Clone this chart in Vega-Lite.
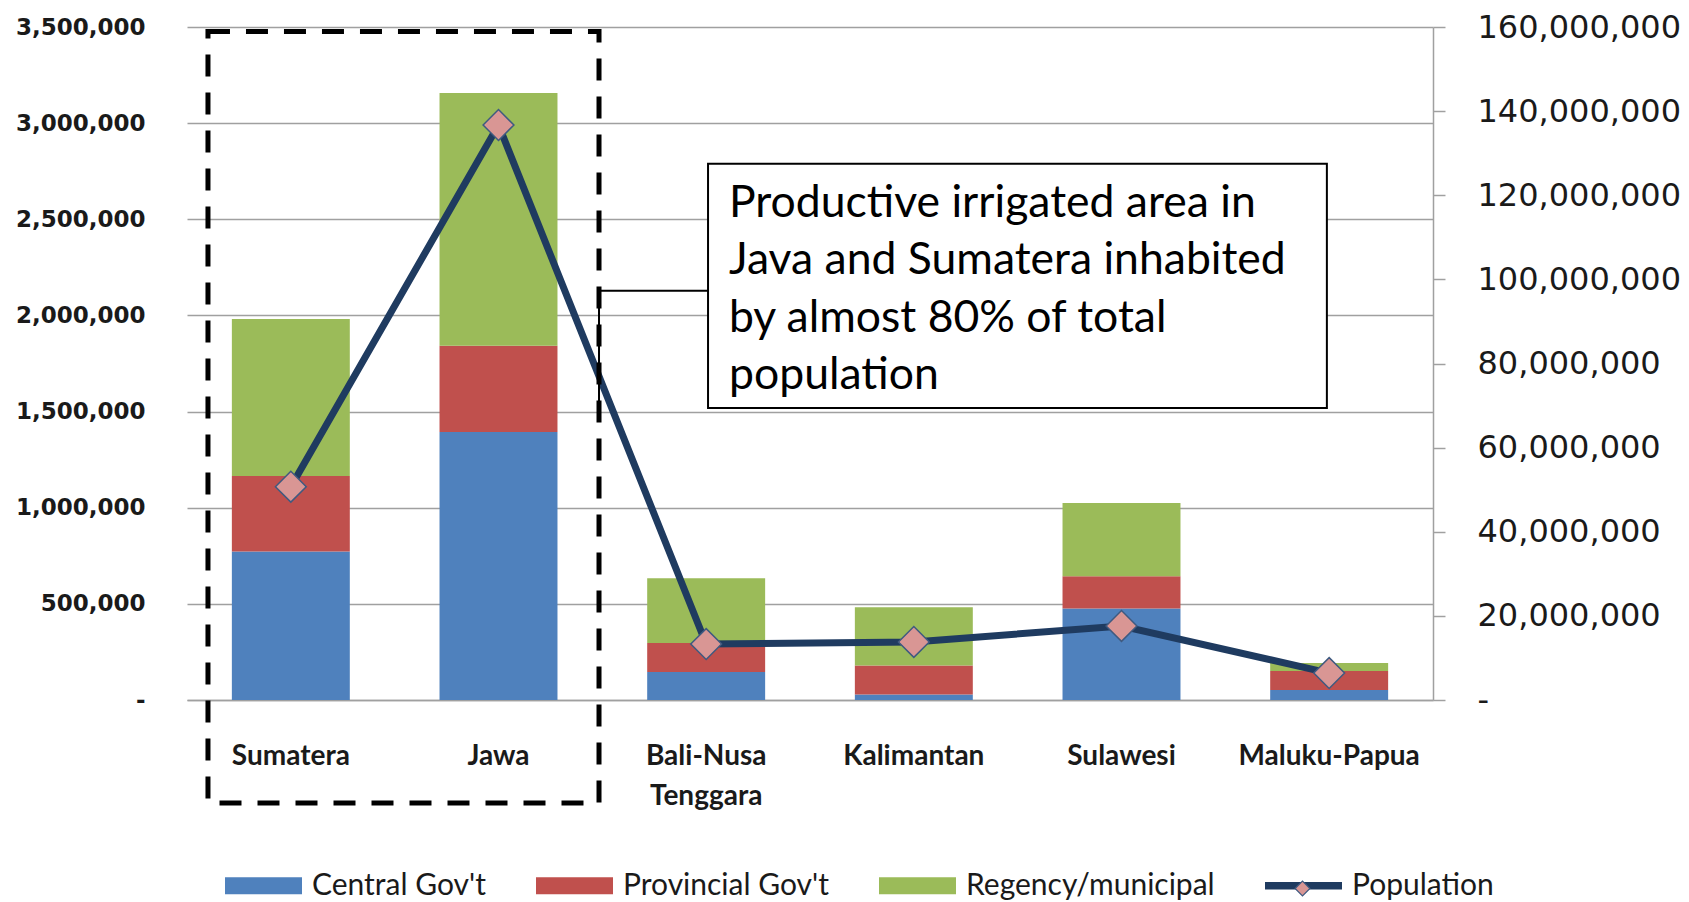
{
  "$schema": "https://vega.github.io/schema/vega-lite/v6.json",
  "width": 1246,
  "height": 673,
  "autosize": {"type": "none"},
  "padding": {"left": 187, "top": 27, "right": 256, "bottom": 202},
  "background": "white",
  "config": {"view": {"stroke": null}},
  "datasets": {
    "area": [
      {"region": "Sumatera", "source": "Central Gov't", "area": 772000},
      {"region": "Sumatera", "source": "Provincial Gov't", "area": 393000},
      {"region": "Sumatera", "source": "Regency/municipal", "area": 817000},
      {"region": "Jawa", "source": "Central Gov't", "area": 1394000},
      {"region": "Jawa", "source": "Provincial Gov't", "area": 448000},
      {"region": "Jawa", "source": "Regency/municipal", "area": 1315000},
      {"region": "Bali-Nusa Tenggara", "source": "Central Gov't", "area": 146000},
      {"region": "Bali-Nusa Tenggara", "source": "Provincial Gov't", "area": 151000},
      {"region": "Bali-Nusa Tenggara", "source": "Regency/municipal", "area": 336000},
      {"region": "Kalimantan", "source": "Central Gov't", "area": 28000},
      {"region": "Kalimantan", "source": "Provincial Gov't", "area": 151000},
      {"region": "Kalimantan", "source": "Regency/municipal", "area": 303000},
      {"region": "Sulawesi", "source": "Central Gov't", "area": 476000},
      {"region": "Sulawesi", "source": "Provincial Gov't", "area": 168000},
      {"region": "Sulawesi", "source": "Regency/municipal", "area": 381000},
      {"region": "Maluku-Papua", "source": "Central Gov't", "area": 52000},
      {"region": "Maluku-Papua", "source": "Provincial Gov't", "area": 99000},
      {"region": "Maluku-Papua", "source": "Regency/municipal", "area": 42000}
    ],
    "pop": [
      {"region": "Sumatera", "series": "Population", "population": 50700000},
      {"region": "Jawa", "series": "Population", "population": 136700000},
      {"region": "Bali-Nusa Tenggara", "series": "Population", "population": 13300000},
      {"region": "Kalimantan", "series": "Population", "population": 13800000},
      {"region": "Sulawesi", "series": "Population", "population": 17600000},
      {"region": "Maluku-Papua", "series": "Population", "population": 6400000}
    ],
    "dash": [{"x": 0.101, "x2": 1.984, "y": 3476000, "y2": -536000}],
    "callout": [{"x": 2.509, "x2": 5.489, "y": 2789000, "y2": 1519000}],
    "connector": [
      {"k": 1, "x": 2.509, "y": 2128000},
      {"k": 2, "x": 1.984, "y": 2128000},
      {"k": 3, "x": 1.984, "y": 1457000}
    ],
    "note": [
      {"text": ["Productive irrigated  area in", "Java and Sumatera inhabited", "by almost 80% of total", "population"], "x": 2.61, "y": 2581000}
    ]
  },
  "layer": [
    {
      "data": {"name": "area"},
      "mark": {"type": "bar"},
      "encoding": {
        "x": {
          "field": "region", "type": "nominal",
          "sort": ["Sumatera", "Jawa", "Bali-Nusa Tenggara", "Kalimantan", "Sulawesi", "Maluku-Papua"],
          "scale": {"type": "band", "paddingInner": 0.432, "paddingOuter": 0.216},
          "axis": {
            "title": null, "labelAngle": 0, "ticks": false, "labelLimit": 0,
            "domain": true, "domainColor": "#A0A0A0", "domainWidth": 1.5,
            "labelFont": "Lato", "labelFontWeight": "bold", "labelFontSize": 28, "labelColor": "#1a1a1a",
            "labelPadding": 42, "labelBaseline": "top", "labelLineHeight": 40,
            "labelExpr": "datum.label == 'Bali-Nusa Tenggara' ? ['Bali-Nusa', 'Tenggara'] : datum.label"
          }
        },
        "y": {
          "field": "area", "type": "quantitative", "stack": "zero",
          "scale": {"domain": [0, 3500000], "nice": false},
          "axis": {
            "title": null, "orient": "left", "labelLimit": 0,
            "values": [0, 500000, 1000000, 1500000, 2000000, 2500000, 3000000, 3500000],
            "labelExpr": "datum.value === 0 ? '-\u00a0\u00a0' : format(datum.value, ',')",
            "labelFont": "DejaVu Sans", "labelFontWeight": "bold", "labelFontSize": 23, "labelColor": "#1a1a1a",
            "labelPadding": 42, "ticks": false, "domain": false,
            "grid": true, "gridColor": "#A0A0A0", "gridWidth": 1.5
          }
        },
        "order": {"field": "source", "type": "nominal", "sort": "ascending"},
        "color": {
          "field": "source", "type": "nominal",
          "scale": {
            "domain": ["Central Gov't", "Provincial Gov't", "Regency/municipal", "Population"],
            "range": ["#4F81BD", "#C0504D", "#9BBB59", "#1F3B60"]
          },
          "legend": {
            "orient": "none", "legendX": 38, "legendY": 820, "direction": "horizontal",
            "title": null, "padding": 0, "labelLimit": 0,
            "symbolType": "M-1,-0.22H1V0.22H-1Z", "symbolSize": 5929, "symbolStrokeWidth": 0,
            "labelFont": "Lato", "labelFontSize": 30, "labelColor": "#1a1a1a", "labelOffset": 10,
            "columnPadding": 50,
            "encode": {
              "symbols": {
                "update": {
                  "shape": {"signal": "datum.value === 'Population' ? 'M-1,-0.1H1V0.1H-1Z' : 'M-1,-0.22H1V0.22H-1Z'"}
                }
              }
            }
          }
        }
      }
    },
    {
      "data": {"name": "pop"},
      "encoding": {
        "x": {
          "field": "region", "type": "nominal",
          "sort": ["Sumatera", "Jawa", "Bali-Nusa Tenggara", "Kalimantan", "Sulawesi", "Maluku-Papua"],
          "scale": {"type": "point", "padding": 0.5},
          "axis": null
        },
        "y": {
          "field": "population", "type": "quantitative",
          "scale": {"domain": [0, 160000000], "nice": false},
          "axis": {
            "title": null, "orient": "right", "labelLimit": 0,
            "values": [0, 20000000, 40000000, 60000000, 80000000, 100000000, 120000000, 140000000, 160000000],
            "labelExpr": "datum.value === 0 ? '-' : format(datum.value, ',')",
            "labelFont": "DejaVu Sans", "labelFontSize": 32, "labelColor": "#1a1a1a",
            "labelPadding": 32, "tickSize": 12, "tickColor": "#A0A0A0", "tickWidth": 1.5,
            "domain": true, "domainColor": "#A0A0A0", "domainWidth": 1.5, "grid": false
          }
        }
      },
      "layer": [
        {"mark": {"type": "line", "color": "#1F3B60", "strokeWidth": 7}},
        {
          "mark": {"type": "point", "shape": "diamond", "filled": true, "size": 950, "stroke": "#3F5A80", "strokeWidth": 1.5, "opacity": 1},
          "encoding": {
            "fill": {
              "field": "series", "type": "nominal",
              "scale": {"domain": ["Population"], "range": ["#D99694"]},
              "legend": {
                "orient": "none", "legendX": 1107, "legendY": 853, "title": null, "padding": 0,
                "symbolType": "diamond", "symbolSize": 220, "symbolStrokeColor": "#3F5A80", "symbolStrokeWidth": 1.2,
                "labelOpacity": 0, "labelFontSize": 2
              }
            }
          }
        }
      ]
    },
    {
      "encoding": {
        "x": {"field": "x", "type": "quantitative", "scale": {"domain": [0, 6], "nice": false, "zero": false}, "axis": null},
        "y": {"field": "y", "type": "quantitative", "scale": {"domain": [0, 3500000], "nice": false}, "axis": null}
      },
      "layer": [
        {
          "data": {"name": "dash"},
          "mark": {"type": "rect", "filled": false, "stroke": "#000000", "strokeWidth": 5, "strokeDash": [22, 16]},
          "encoding": {"x2": {"field": "x2"}, "y2": {"field": "y2"}}
        },
        {
          "data": {"name": "connector"},
          "mark": {"type": "line", "color": "#000000", "strokeWidth": 2},
          "encoding": {"order": {"field": "k", "type": "quantitative"}}
        },
        {
          "data": {"name": "callout"},
          "mark": {"type": "rect", "fill": "white", "stroke": "#000000", "strokeWidth": 2},
          "encoding": {"x2": {"field": "x2"}, "y2": {"field": "y2"}}
        },
        {
          "data": {"name": "note"},
          "mark": {"type": "text", "align": "left", "baseline": "middle", "font": "Lato", "fontSize": 44.5, "lineHeight": 57.5, "color": "#000000"},
          "encoding": {"text": {"field": "text", "type": "nominal"}}
        }
      ]
    }
  ],
  "resolve": {"scale": {"x": "independent", "y": "independent"}}
}
